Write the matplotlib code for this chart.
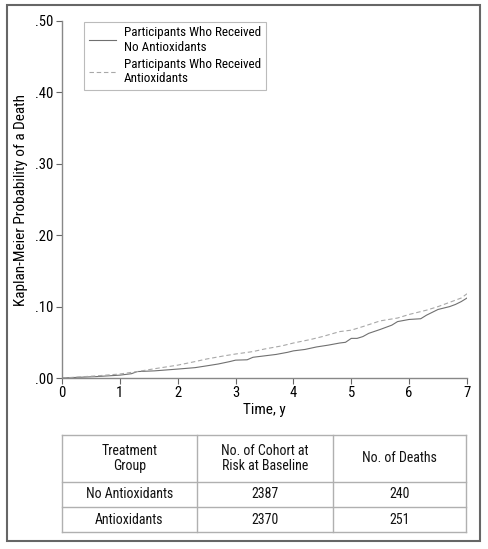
import matplotlib
matplotlib.use("Agg")
import matplotlib.pyplot as plt
from matplotlib.patches import Rectangle
from matplotlib.lines import Line2D

plt.rcParams['font.family'] = ['Roboto Condensed', 'DejaVu Sans']

# Kaplan-Meier curves (time in years, cumulative probability of death)
t_no = [0, 0.3, 0.6, 1.0, 1.2, 1.3, 1.6, 2.0, 2.3, 2.5, 2.7, 2.9, 3.0, 3.2, 3.3, 3.5,
        3.7, 3.9, 4.0, 4.2, 4.4, 4.6, 4.8, 4.9, 5.0, 5.1, 5.2, 5.3, 5.5, 5.7, 5.8,
        6.0, 6.2, 6.3, 6.4, 6.5, 6.7, 6.8, 6.9, 7.0]
p_no = [0, 0.001, 0.002, 0.004, 0.006, 0.009, 0.010, 0.0125, 0.0145, 0.017, 0.0196,
        0.023, 0.025, 0.0255, 0.029, 0.031, 0.033, 0.036, 0.038, 0.040, 0.0435, 0.046,
        0.049, 0.050, 0.0555, 0.0555, 0.058, 0.0625, 0.068, 0.074, 0.079, 0.082, 0.083,
        0.088, 0.092, 0.096, 0.100, 0.103, 0.107, 0.112]

t_ax = [0, 0.3, 0.6, 1.0, 1.3, 1.6, 2.0, 2.3, 2.5, 2.8, 3.0, 3.3, 3.5, 3.8, 4.0, 4.3,
        4.5, 4.8, 5.0, 5.2, 5.5, 5.8, 6.0, 6.3, 6.5, 6.7, 6.9, 7.0]
p_ax = [0, 0.0015, 0.003, 0.0056, 0.009, 0.013, 0.018, 0.023, 0.0266, 0.031, 0.0336,
        0.037, 0.0406, 0.045, 0.049, 0.054, 0.058, 0.065, 0.067, 0.072, 0.080, 0.084,
        0.089, 0.095, 0.100, 0.106, 0.112, 0.118]

legend_labels = ["Participants Who Received\nNo Antioxidants",
                 "Participants Who Received\nAntioxidants"]

x_ticks = [0, 1, 2, 3, 4, 5, 6, 7]
y_ticks = [0, 0.10, 0.20, 0.30, 0.40, 0.50]
y_ticklabels = [".00", ".10", ".20", ".30", ".40", ".50"]

table_header = ["Treatment\nGroup", "No. of Cohort at\nRisk at Baseline", "No. of Deaths"]
table_groups = ["No Antioxidants", "Antioxidants"]
table_at_risk = [2387, 2370]
table_deaths = [240, 251]

W, H = 488, 549
fig = plt.figure(figsize=(W / 100, H / 100), dpi=100)

# outer frame
fig.patches.append(Rectangle((7 / W, 1 - 541 / H), (480 - 7) / W, (541 - 5) / H,
                             transform=fig.transFigure, fill=False,
                             edgecolor='#666666', linewidth=1.5))

ax = fig.add_axes([62 / W, 1 - 378 / H, (467 - 62) / W, (378 - 21) / H])
ax.plot(t_no, p_no, color='#707070', linewidth=0.8, label=legend_labels[0])
ax.plot(t_ax, p_ax, color='#a8a8a8', linewidth=0.8,
        linestyle=(0, (4, 2.5)), label=legend_labels[1])
ax.set_xlim(0, 7)
ax.set_ylim(0, 0.5)
ax.set_xticks(x_ticks)
ax.set_yticks(y_ticks)
ax.set_yticklabels(y_ticklabels)
for s in ['top', 'right']:
    ax.spines[s].set_visible(False)
for s in ['left', 'bottom']:
    ax.spines[s].set_color('#888888')
    ax.spines[s].set_linewidth(1.0)
ax.tick_params(direction='out', length=4, width=0.8, color='#666666',
               labelsize=10.5, pad=2)
ax.set_xlabel("Time, y", fontsize=11, labelpad=2)
ax.set_ylabel("Kaplan-Meier Probability of a Death", fontsize=11, labelpad=5)

leg = ax.legend(loc='upper left', bbox_to_anchor=((84 - 62) / 405, 0.998),
                frameon=True, fancybox=False, edgecolor='#aaaaaa',
                fontsize=9.4, handlelength=2.1, handletextpad=0.6,
                borderpad=0.35, labelspacing=0.3, borderaxespad=0)
leg.get_frame().set_linewidth(0.8)
for txt in leg.get_texts():
    txt.set_linespacing(1.15)

# table
tx0, tx1, ty0, ty1 = 62, 466, 435, 532
tax = fig.add_axes([tx0 / W, 1 - ty1 / H, (tx1 - tx0) / W, (ty1 - ty0) / H])
tax.set_xlim(tx0, tx1)
tax.set_ylim(ty1, ty0)
tax.axis('off')
col_edges = [62, 197, 333, 466]
row_edges = [435, 482, 507, 532]
lc = '#b0b0b0'
for x in col_edges:
    tax.add_line(Line2D([x, x], [row_edges[0], row_edges[-1]], color=lc, lw=1.0,
                        clip_on=False))
for y in row_edges:
    tax.add_line(Line2D([col_edges[0], col_edges[-1]], [y, y], color=lc, lw=1.0,
                        clip_on=False))

def cell(r, c, s):
    xc = (col_edges[c] + col_edges[c + 1]) / 2
    yc = (row_edges[r] + row_edges[r + 1]) / 2
    tax.text(xc, yc, s, ha='center', va='center', fontsize=10,
             linespacing=1.1, color='#111111')

for c, s in enumerate(table_header):
    cell(0, c, s)
for i in range(len(table_groups)):
    cell(i + 1, 0, table_groups[i])
    cell(i + 1, 1, str(table_at_risk[i]))
    cell(i + 1, 2, str(table_deaths[i]))

fig.savefig("out.png", dpi=100)
